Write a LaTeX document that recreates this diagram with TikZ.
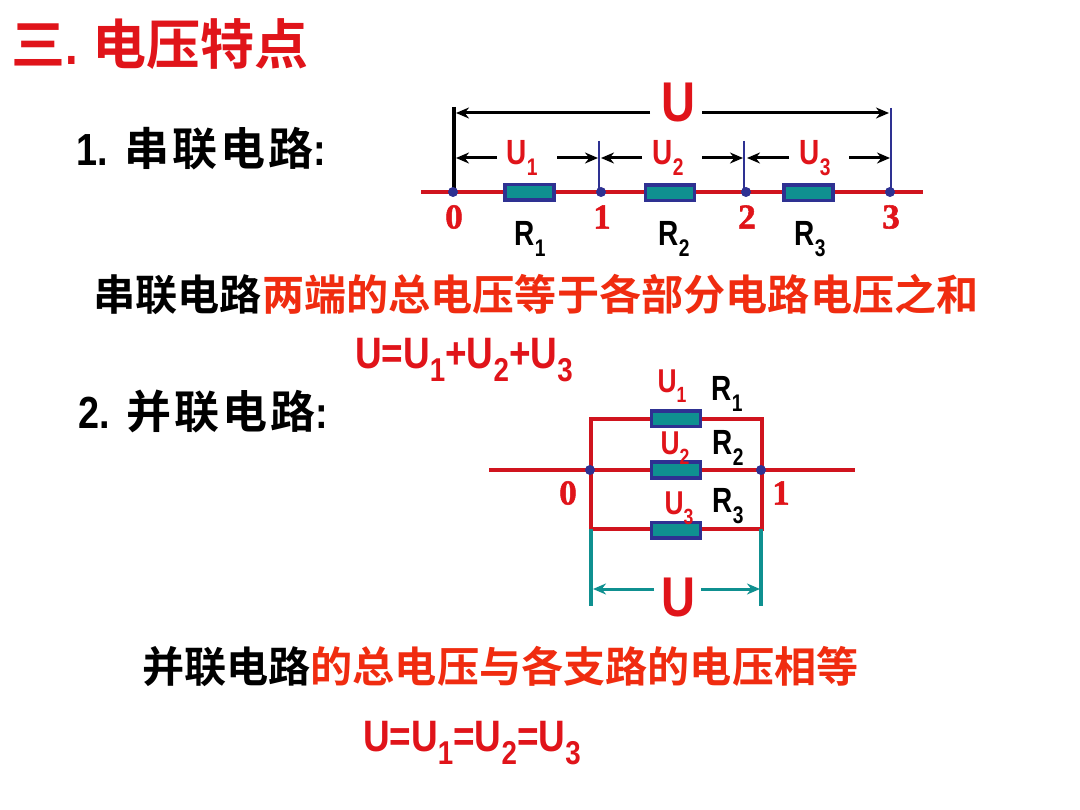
\documentclass[tikz,border=0pt]{standalone}
\usepackage{fontspec}
\setmainfont{Liberation Sans}
\newfontfamily\cjkb{Noto Sans CJK SC Bold}
\newfontfamily\cjkw{Noto Sans CJK SC Bold}[LetterSpace=7]
\newfontfamily\serifb{Liberation Serif}[BoldFont={Liberation Serif Bold},BoldFeatures={FakeBold=1.5}]
\newfontfamily\latb{Liberation Sans Bold}[FakeStretch=0.84]
\newfontfamily\latn{Liberation Sans Bold}[FakeStretch=0.8]
\definecolor{rd}{HTML}{E0141A}
\definecolor{orr}{HTML}{F02C10}
\definecolor{wire}{HTML}{D0141E}
\definecolor{blu}{HTML}{2E3192}
\definecolor{tl}{HTML}{0F9090}
\newcommand{\fs}[1]{\fontsize{#1}{#1}\selectfont}
\newcommand{\subs}[2]{\raisebox{-0.3em}{\fs{#2}#1}}
\usetikzlibrary{arrows.meta}
\tikzset{
  x=1pt,y=-1pt,
  txt/.style={inner sep=0pt,outer sep=0pt,anchor=center},
  resistor/.style={draw=blu,line width=3.5pt,fill=tl,minimum width=49pt,minimum height=15.5pt,inner sep=0pt},
  dot/.style={circle,fill=blu,minimum size=10pt,inner sep=0pt},
  wireline/.style={draw=wire,line width=3.2pt},
  tick/.style={draw=blu,line width=2.6pt},
  dim/.style={draw=black,line width=3pt,-{Stealth[length=13pt,width=11pt]}},
  tdim/.style={draw=tl,line width=3pt,-{Stealth[length=13pt,width=11pt]}},
  nm/.style={txt,text=rd,font=\serifb\bfseries\fs{35}},
  big/.style={txt,text=rd,font=\latb\fs{56}},
  ulab/.style={txt,text=rd,font=\latn\fs{35}},
  rlab/.style={txt,text=black,font=\latn\fs{35}},
}
\begin{document}
\begin{tikzpicture}
\useasboundingbox (0,0) rectangle (1080,810);
\fill[white] (0,0) rectangle (1080,810);
% title and texts
\node[txt,text=rd,font=\cjkb\fs{54},anchor=west] (title) at (12,44) {三{\latb.}\hspace{14pt}电压特点};
\node[txt,text=black,font=\cjkw\fs{45},anchor=west] (h1) at (76,149) {{\latb 1.}\hspace{17pt}串联电路{\latb :}};
\node[txt,text=black,font=\cjkw\fs{45},anchor=west] (h2) at (78,412) {{\latb 2.}\hspace{17pt}并联电路{\latb :}};
\node[txt,font=\cjkb\fs{42.15},anchor=west] (s1) at (93.5,294) {串联电路\textcolor{orr}{两端的总电压等于各部分电路电压之和}};
\node[txt,font=\cjkb\fs{42.15},anchor=west] (s2) at (142,667) {并联电路\textcolor{orr}{的总电压与各支路的电压相等}};
\node[txt,text=rd,font=\latb\fs{44},anchor=west] (f1) at (355,360) {U=U\subs{1}{33}+U\subs{2}{33}+U\subs{3}{33}};
\node[txt,text=rd,font=\latb\fs{44},anchor=west] (f2) at (363,743) {U=U\subs{1}{33}=U\subs{2}{33}=U\subs{3}{33}};
% series circuit
\coordinate (sl) at (421,192);
\coordinate (sr) at (923,192);
\draw[wireline] (sl) -- (sr);
\coordinate (t0) at (454,107);
\coordinate (t1) at (599,141);
\coordinate (t2) at (744,141);
\coordinate (t3) at (891,108);
\draw[draw=black,line width=3.6pt] (t0) -- (454,192);
\draw[tick] (t1) -- (599,192);
\draw[tick] (t2) -- (744,192);
\draw[tick] (t3) -- (891,192);
\node[dot] (a0) at (453,192) {};
\node[dot] (a1) at (601,192) {};
\node[dot] (a2) at (746,192) {};
\node[dot] (a3) at (890,192) {};
\node[resistor] (r1) at (529.5,192.5) {};
\node[resistor] (r2) at (670,193) {};
\node[resistor] (r3) at (808.5,193) {};
\node[big] (uS) at (678,103) {U};
\coordinate (ua) at (456,113);
\coordinate (ub) at (889,113);
\draw[dim] (650,113) -- (ua);
\draw[dim] (702,113) -- (ub);
\node[ulab] (u1) at (522,158) {U\subs{1}{24}};
\node[ulab] (u2) at (668,158) {U\subs{2}{24}};
\node[ulab] (u3) at (815,158) {U\subs{3}{24}};
\draw[dim] (497,158) -- (456,158);
\draw[dim] (557,158) -- (598,158);
\draw[dim] (642,158) -- (601,158);
\draw[dim] (702,158) -- (743,158);
\draw[dim] (789,158) -- (747,158);
\draw[dim] (849,158) -- (890,158);
\node[nm] (n0) at (454,217) {0};
\node[nm] (n1) at (602,217) {1};
\node[nm] (n2) at (747,217) {2};
\node[nm] (n3) at (891,217) {3};
\node[rlab] (l1) at (530,239) {R\subs{1}{24}};
\node[rlab] (l2) at (674,239) {R\subs{2}{24}};
\node[rlab] (l3) at (810,239) {R\subs{3}{24}};
% parallel circuit
\coordinate (pl) at (489,470);
\coordinate (pr) at (855,470);
\coordinate (tl1) at (591,419);
\coordinate (tr1) at (762,419);
\coordinate (bl1) at (591,529);
\coordinate (br1) at (762,529);
\draw[wireline] (pl) -- (pr);
\draw[wireline,line width=3.8pt,line join=miter] (bl1) -- (tl1) -- (tr1) -- (br1) -- cycle;
\node[dot] (b0) at (590,470) {};
\node[dot] (b1) at (761,470) {};
\node[resistor] (p1) at (676,419) {};
\node[resistor] (p2) at (676,470) {};
\node[resistor] (p3) at (676,530) {};
\coordinate (v0) at (591,606);
\coordinate (v1) at (761,606);
\draw[draw=tl,line width=3.6pt] (bl1) -- (v0);
\draw[draw=tl,line width=3.6pt] (761,529) -- (v1);
\draw[tdim] (654,589) -- (593,589);
\draw[tdim] (701,589) -- (760,589);
\node[big] (uP) at (678,598) {U};
\node[txt,text=rd,font=\latn\fs{33}] (q1) at (672,386) {U\subs{1}{22}};
\node[txt,text=rd,font=\latn\fs{33}] (q2) at (675,448) {U\subs{2}{22}};
\node[txt,text=rd,font=\latn\fs{33}] (q3) at (679,508) {U\subs{3}{22}};
\node[rlab] (w1) at (727,394) {R\subs{1}{24}};
\node[rlab] (w2) at (728,448) {R\subs{2}{24}};
\node[rlab] (w3) at (728,506) {R\subs{3}{24}};
\node[nm] (m0) at (568,493) {0};
\node[nm] (m1) at (781,493) {1};
\end{tikzpicture}
\end{document}
